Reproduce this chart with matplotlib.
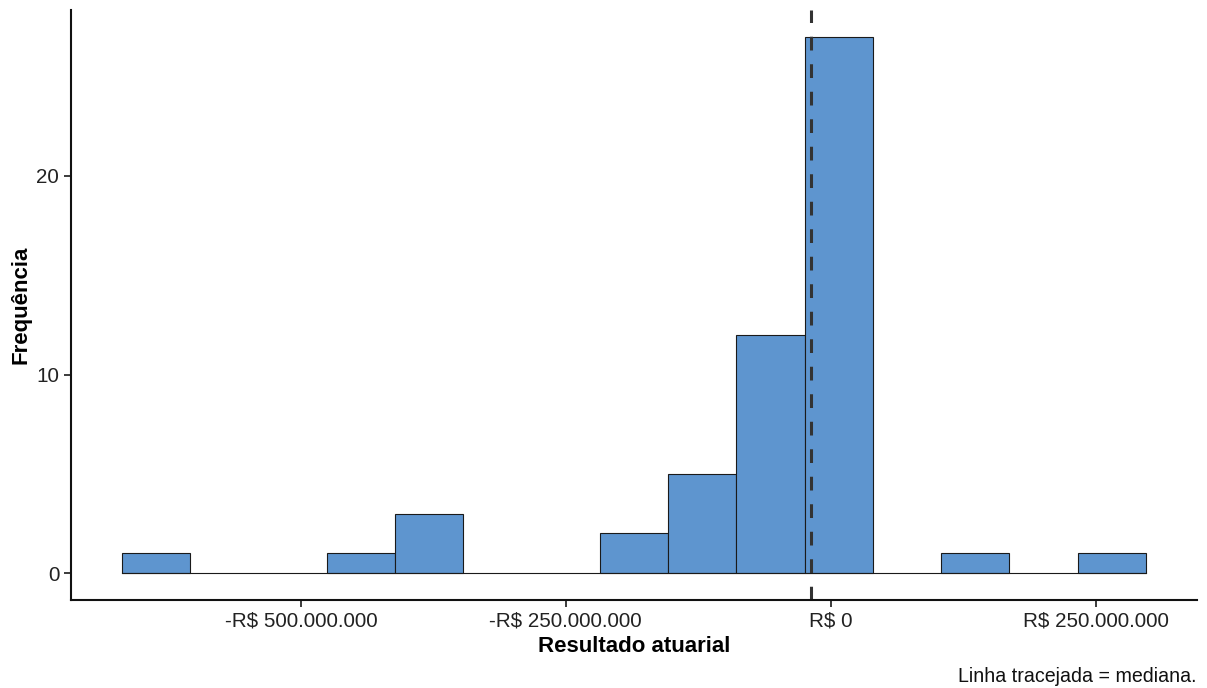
import matplotlib
matplotlib.use("Agg")
import matplotlib.pyplot as plt
import numpy as np
from matplotlib.ticker import FuncFormatter

plt.rcParams['font.family'] = ['Liberation Sans', 'DejaVu Sans']

# Histogram data (15 bins), values in R$
bin_start = -668.7e6
bin_width = 64.41e6
counts = [1, 0, 0, 1, 3, 0, 0, 2, 5, 12, 27, 0, 1, 0, 1]
median_value = -18.9e6
x_ticks = [-500e6, -250e6, 0, 250e6]
y_ticks = [0, 10, 20]

edges = bin_start + bin_width * np.arange(len(counts) + 1)

fig = plt.figure(figsize=(12.07, 6.88), dpi=100)
ax = fig.add_axes([71/1207, 1 - 600/688, (1197-71)/1207, (600-10)/688])

ax.plot([edges[0], edges[-1]], [0, 0], color='#1a1a1a', linewidth=0.8)
for i, c in enumerate(counts):
    if c > 0:
        ax.bar(edges[i], c, width=bin_width, align='edge', color='#5E95CF',
               edgecolor='#1a1a1a', linewidth=0.8)

ax.axvline(median_value, color='#333333', linestyle=(0, (4.5, 4.5)), linewidth=2.2)

span = edges[-1] - edges[0]
ax.set_xlim(edges[0] - 0.05 * span, edges[-1] + 0.05 * span)
ymax = max(counts)
ax.set_ylim(-0.05 * ymax, ymax * 1.05)

def fmt(v, pos):
    s = f"{abs(v):,.0f}".replace(",", ".")
    return ("-R$ " if v < 0 else "R$ ") + s

ax.set_xticks(x_ticks)
ax.xaxis.set_major_formatter(FuncFormatter(fmt))
ax.set_yticks(y_ticks)
ax.tick_params(axis='both', labelsize=14.9, colors='#1a1a1a', length=5, width=1.2,
               labelcolor='#222222')
for s in ['top', 'right']:
    ax.spines[s].set_visible(False)
for s in ['left', 'bottom']:
    ax.spines[s].set_linewidth(1.5)
    ax.spines[s].set_color('#111111')

ax.set_xlabel('Resultado atuarial', fontsize=16, fontweight='bold', labelpad=4)
ax.set_ylabel('Frequência', fontsize=16, fontweight='bold', labelpad=3.5)

fig.text(1197/1207, 1 - 676/688, 'Linha tracejada = mediana.', ha='right', va='center',
         fontsize=14.1, color='#111111')

fig.savefig('out.png', dpi=100)
